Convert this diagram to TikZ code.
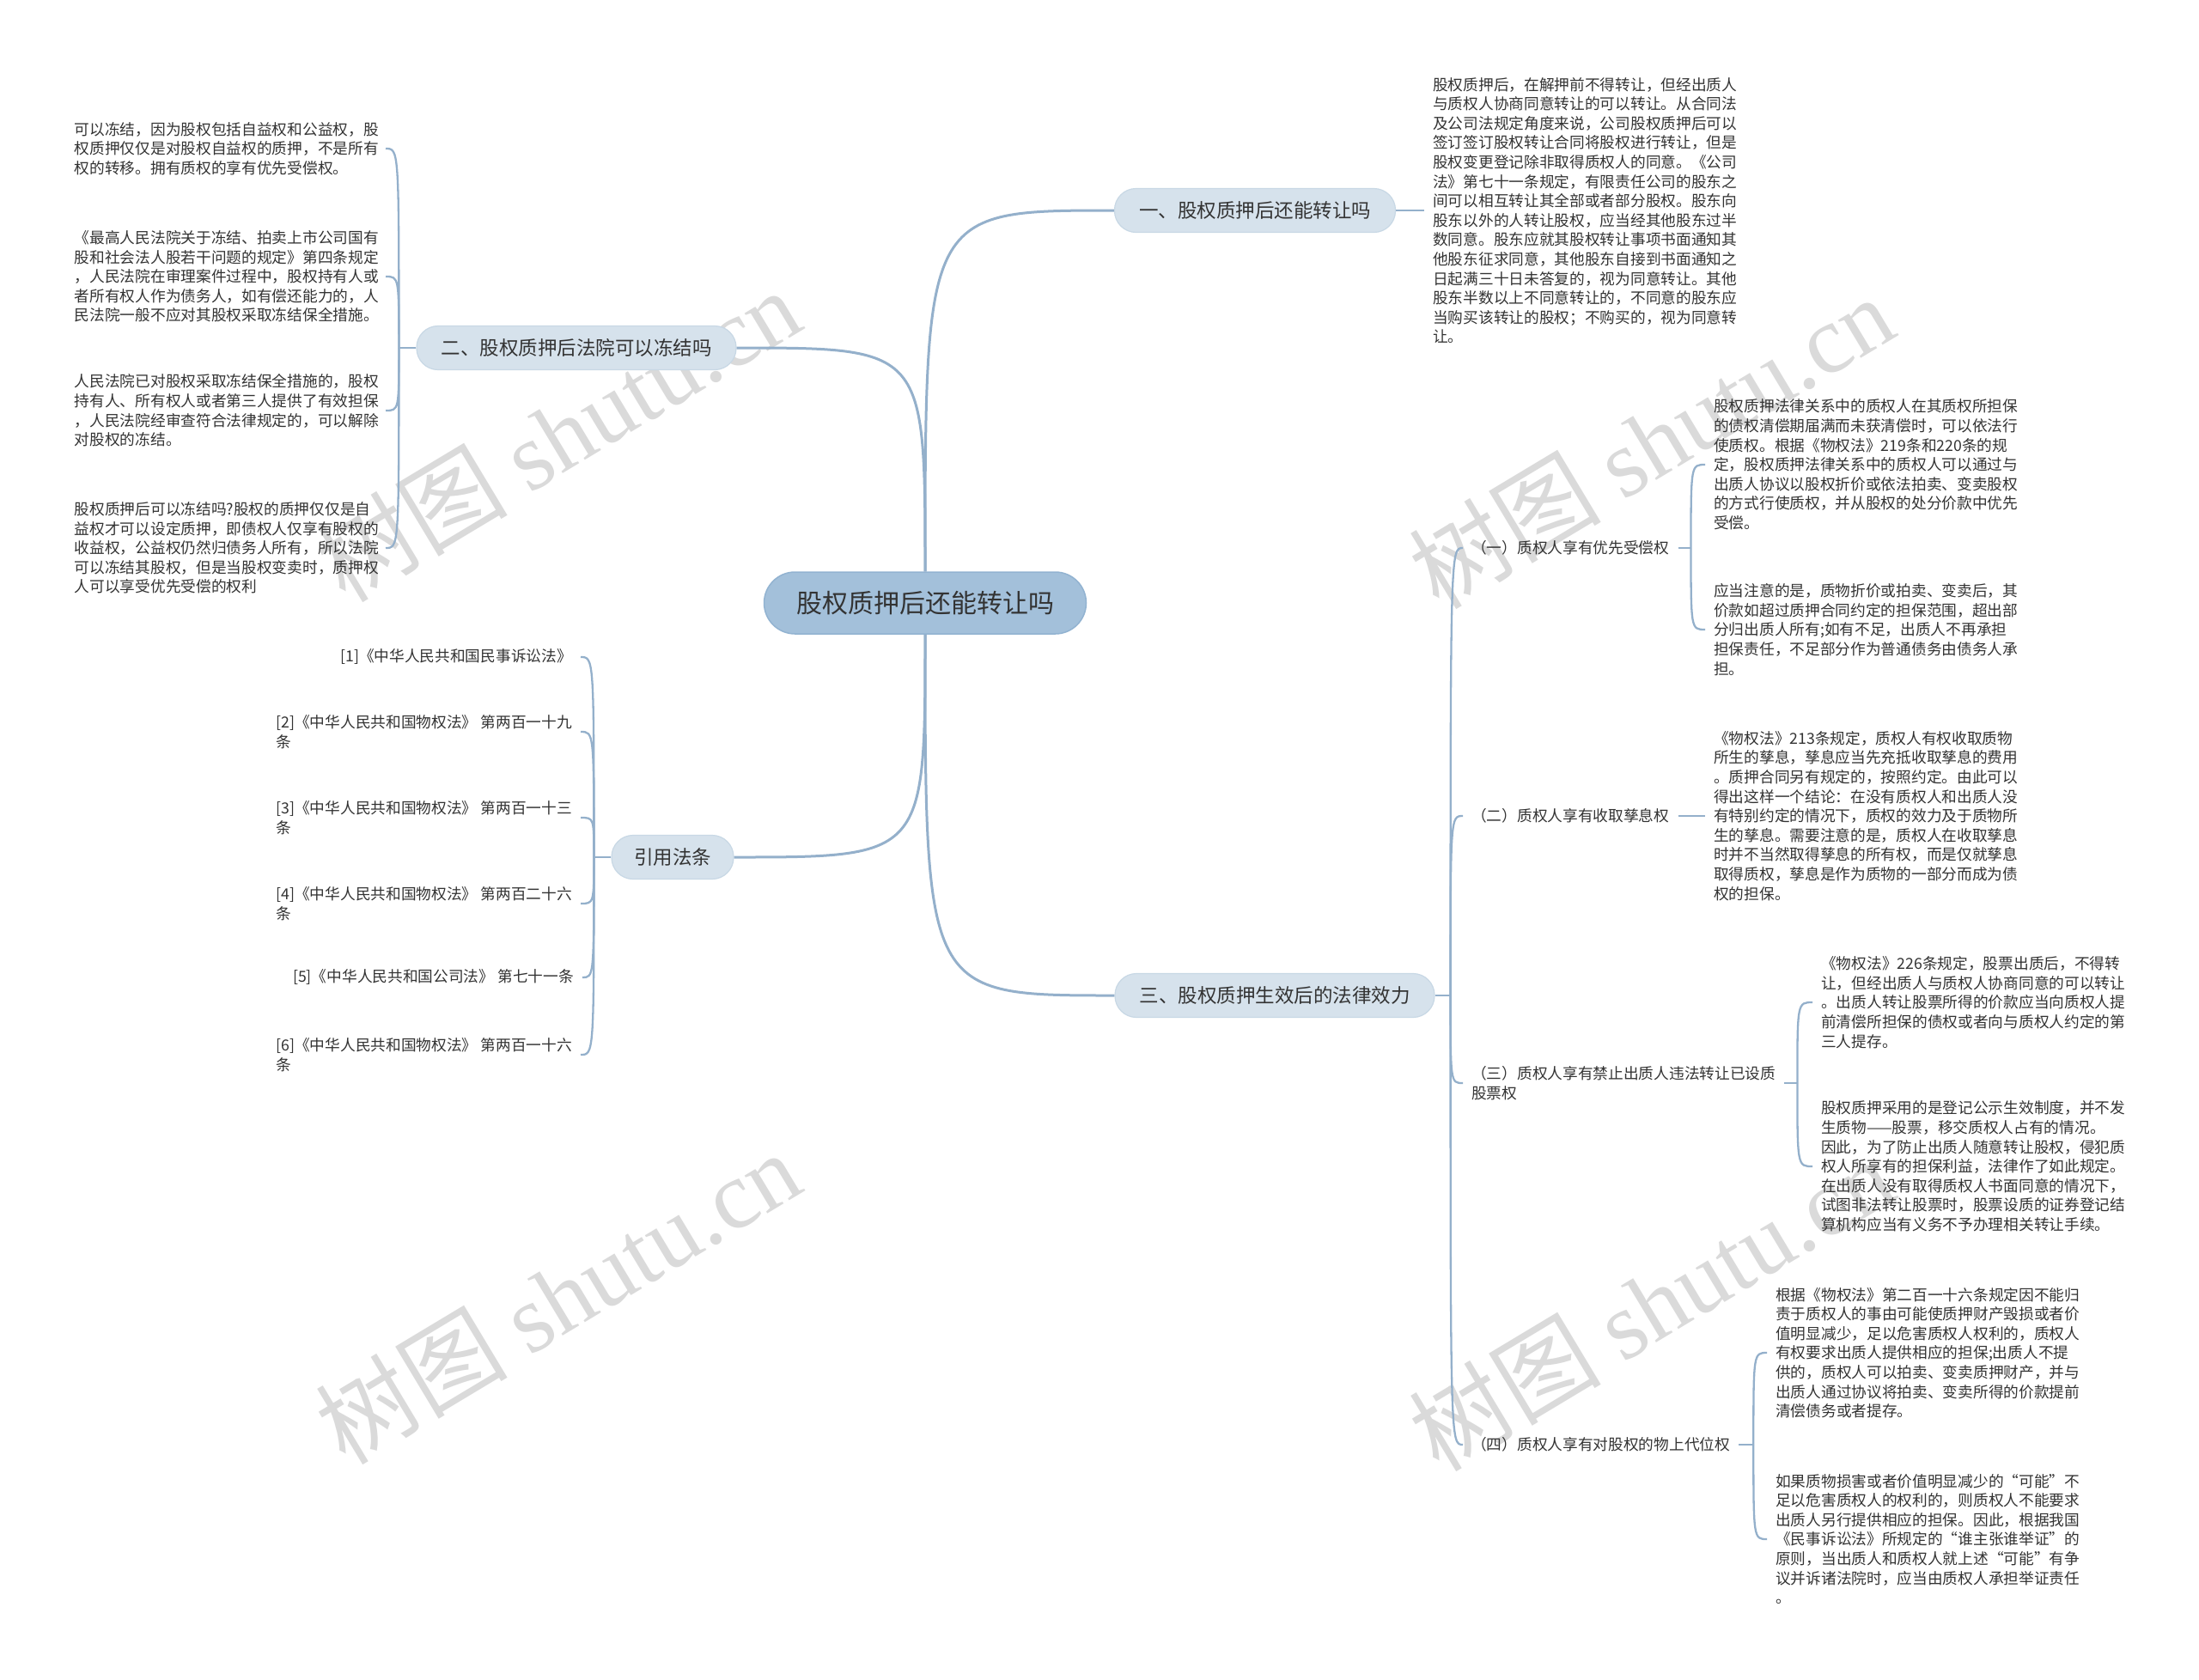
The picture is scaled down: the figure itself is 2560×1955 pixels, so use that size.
\documentclass[tikz,border=0pt]{standalone}
\usepackage{fontspec}
\setmainfont{Noto Sans CJK SC}
\newfontfamily\wmlatin{Liberation Serif}
\usetikzlibrary{calc}
\definecolor{linec}{HTML}{94B0CB}
\definecolor{rootfill}{HTML}{A3C0DA}
\definecolor{rootdraw}{HTML}{92B3D1}
\definecolor{brfill}{HTML}{D6E2EC}
\definecolor{brdraw}{HTML}{C8D8E5}
\definecolor{txt}{HTML}{333333}
\definecolor{wm}{HTML}{DADADA}
\begin{document}
\begin{tikzpicture}[x=1pt,y=-1pt,
  mainconn/.style={draw=linec, line width=3pt},
  conn/.style={draw=linec, line width=2.3pt},
  rootbox/.style={fill=rootfill, draw=rootdraw, line width=1.5pt, rounded corners=36pt, minimum width=375pt, minimum height=72pt, font=\fontsize{30}{36}\selectfont, text=txt, inner sep=0pt},
  brbox/.style={fill=brfill, draw=brdraw, line width=1.2pt, rounded corners=25pt, minimum height=51pt, font=\fontsize{22.5}{27}\selectfont, text=txt, inner sep=0pt},
  leaf/.style={font=\fontsize{17.7}{22.6}\selectfont, text=txt, align=left, inner xsep=10pt, inner ysep=0pt},
  wmark/.style={text=wm, rotate=31, font=\fontsize{112}{112}\selectfont, inner sep=0pt}
]
\fill[white] (0,0) rectangle (2560,1955);
\useasboundingbox (0,0) rectangle (2560,1955);

% watermarks
\node[wmark] (wm1) at (649,506) {树图 {\wmlatin shutu.cn}};
\node[wmark] (wm2) at (1922,514) {树图 {\wmlatin shutu.cn}};
\node[wmark] (wm3) at (649,1510) {树图 {\wmlatin shutu.cn}};
\node[wmark] (wm4) at (1922,1518) {树图 {\wmlatin shutu.cn}};

% root and branches
\node[rootbox] (root) at (1077,702) {股权质押后还能转让吗};
\node[brbox, minimum width=327pt] (b1) at (1461,245) {一、股权质押后还能转让吗};
\node[brbox, minimum width=372pt] (b2) at (671,405) {二、股权质押后法院可以冻结吗};
\node[brbox, minimum width=142pt] (b3) at (783,998) {引用法条};
\node[brbox, minimum width=372pt] (b4) at (1484,1159) {三、股权质押生效后的法律效力};

\draw[mainconn] (root.north) .. controls (root.north |- b1.west) .. (b1.west);
\draw[mainconn] (root.north) .. controls (root.north |- b2.east) .. (b2.east);
\draw[mainconn] (root.south) .. controls (root.south |- b3.east) .. (b3.east);
\draw[mainconn] (root.south) .. controls (root.south |- b4.west) .. (b4.west);

% branch 1 leaf
\node[leaf, anchor=west] (l1) at (1658,245) {股权质押后，在解押前不得转让，但经出质人\\
与质权人协商同意转让的可以转让。从合同法\\
及公司法规定角度来说，公司股权质押后可以\\
签订签订股权转让合同将股权进行转让，但是\\
股权变更登记除非取得质权人的同意。《公司\\
法》第七十一条规定，有限责任公司的股东之\\
间可以相互转让其全部或者部分股权。股东向\\
股东以外的人转让股权，应当经其他股东过半\\
数同意。股东应就其股权转让事项书面通知其\\
他股东征求同意，其他股东自接到书面通知之\\
日起满三十日未答复的，视为同意转让。其他\\
股东半数以上不同意转让的，不同意的股东应\\
当购买该转让的股权；不购买的，视为同意转\\
让。};
\draw[conn] (b1.east) -- (l1.west);

% branch 2 leaves
\node[leaf, anchor=east, inner xsep=8pt] (l2a) at (449,173) {可以冻结，因为股权包括自益权和公益权，股\\
权质押仅仅是对股权自益权的质押，不是所有\\
权的转移。拥有质权的享有优先受偿权。};
\node[leaf, anchor=east, inner xsep=8pt] (l2b) at (449,322) {《最高人民法院关于冻结、拍卖上市公司国有\\
股和社会法人股若干问题的规定》第四条规定\\
，人民法院在审理案件过程中，股权持有人或\\
者所有权人作为债务人，如有偿还能力的，人\\
民法院一般不应对其股权采取冻结保全措施。};
\node[leaf, anchor=east, inner xsep=8pt] (l2c) at (449,478) {人民法院已对股权采取冻结保全措施的，股权\\
持有人、所有权人或者第三人提供了有效担保\\
，人民法院经审查符合法律规定的，可以解除\\
对股权的冻结。};
\node[leaf, anchor=east, inner xsep=8pt] (l2d) at (449,638) {股权质押后可以冻结吗?股权的质押仅仅是自\\
益权才可以设定质押，即债权人仅享有股权的\\
收益权，公益权仍然归债务人所有，所以法院\\
可以冻结其股权，但是当股权变卖时，质押权\\
人可以享受优先受偿的权利};
\coordinate (j2) at ($(b2.west)+(-20,0)$);
\draw[conn] (b2.west) -- (j2);
\foreach \c in {l2a,l2b,l2c,l2d}
  \draw[conn] (j2) .. controls (j2 |- \c.east) .. (\c.east);

% references
\node[leaf, anchor=east] (r1) at (676,765) {[1]《中华人民共和国民事诉讼法》};
\node[leaf, anchor=east] (r2) at (676,852) {[2]《中华人民共和国物权法》 第两百一十九\\条};
\node[leaf, anchor=east] (r3) at (676,952) {[3]《中华人民共和国物权法》 第两百一十三\\条};
\node[leaf, anchor=east] (r4) at (676,1052) {[4]《中华人民共和国物权法》 第两百二十六\\条};
\node[leaf, anchor=east] (r5) at (678,1138) {[5]《中华人民共和国公司法》 第七十一条};
\node[leaf, anchor=east] (r6) at (676,1228) {[6]《中华人民共和国物权法》 第两百一十六\\条};
\coordinate (j3) at ($(b3.west)+(-20,0)$);
\draw[conn] (b3.west) -- (j3);
\foreach \c in {r1,r2,r3,r4,r5,r6}
  \draw[conn] (j3) .. controls (j3 |- \c.east) .. (\c.east);

% branch 4 sub-labels
\node[leaf, anchor=west] (s1) at (1703,638) {（一）质权人享有优先受偿权};
\node[leaf, anchor=west] (s2) at (1703,950) {（二）质权人享有收取孳息权};
\node[leaf, anchor=west] (s3) at (1703,1261) {（三）质权人享有禁止出质人违法转让已设质\\股票权};
\node[leaf, anchor=west] (s4) at (1703,1682) {（四）质权人享有对股权的物上代位权};
\coordinate (j4) at ($(b4.east)+(18,0)$);
\draw[conn] (b4.east) -- (j4);
\foreach \c in {s1,s2,s3,s4}
  \draw[conn] (j4) .. controls (j4 |- \c.west) .. (\c.west);

% (一) children
\node[leaf, anchor=west] (s1a) at (1985,541) {股权质押法律关系中的质权人在其质权所担保\\
的债权清偿期届满而未获清偿时，可以依法行\\
使质权。根据《物权法》219条和220条的规\\
定，股权质押法律关系中的质权人可以通过与\\
出质人协议以股权折价或依法拍卖、变卖股权\\
的方式行使质权，并从股权的处分价款中优先\\
受偿。};
\node[leaf, anchor=west] (s1b) at (1985,733) {应当注意的是，质物折价或拍卖、变卖后，其\\
价款如超过质押合同约定的担保范围，超出部\\
分归出质人所有;如有不足，出质人不再承担\\
担保责任，不足部分作为普通债务由债务人承\\
担。};
\coordinate (js1) at ($(s1.east)+(15,0)$);
\draw[conn] (s1.east) -- (js1);
\foreach \c in {s1a,s1b}
  \draw[conn] (js1) .. controls (js1 |- \c.west) .. (\c.west);

% (二) child
\node[leaf, anchor=west] (s2a) at (1985,950) {《物权法》213条规定，质权人有权收取质物\\
所生的孳息，孳息应当先充抵收取孳息的费用\\
。质押合同另有规定的，按照约定。由此可以\\
得出这样一个结论：在没有质权人和出质人没\\
有特别约定的情况下，质权的效力及于质物所\\
生的孳息。需要注意的是，质权人在收取孳息\\
时并不当然取得孳息的所有权，而是仅就孳息\\
取得质权，孳息是作为质物的一部分而成为债\\
权的担保。};
\draw[conn] (s2.east) -- (s2a.west);

% (三) children
\node[leaf, anchor=west] (s3a) at (2110,1167) {《物权法》226条规定，股票出质后，不得转\\
让，但经出质人与质权人协商同意的可以转让\\
。出质人转让股票所得的价款应当向质权人提\\
前清偿所担保的债权或者向与质权人约定的第\\
三人提存。};
\node[leaf, anchor=west] (s3b) at (2110,1358) {股权质押采用的是登记公示生效制度，并不发\\
生质物——股票，移交质权人占有的情况。\\
因此，为了防止出质人随意转让股权，侵犯质\\
权人所享有的担保利益，法律作了如此规定。\\
在出质人没有取得质权人书面同意的情况下，\\
试图非法转让股票时，股票设质的证券登记结\\
算机构应当有义务不予办理相关转让手续。};
\coordinate (js3) at ($(s3.east)+(15,0)$);
\draw[conn] (s3.east) -- (js3);
\foreach \c in {s3a,s3b}
  \draw[conn] (js3) .. controls (js3 |- \c.west) .. (\c.west);

% (四) children
\node[leaf, anchor=west] (s4a) at (2057,1575) {根据《物权法》第二百一十六条规定因不能归\\
责于质权人的事由可能使质押财产毁损或者价\\
值明显减少，足以危害质权人权利的，质权人\\
有权要求出质人提供相应的担保;出质人不提\\
供的，质权人可以拍卖、变卖质押财产，并与\\
出质人通过协议将拍卖、变卖所得的价款提前\\
清偿债务或者提存。};
\node[leaf, anchor=west] (s4b) at (2057,1792) {如果质物损害或者价值明显减少的“可能”不\\
足以危害质权人的权利的，则质权人不能要求\\
出质人另行提供相应的担保。因此，根据我国\\
《民事诉讼法》所规定的“谁主张谁举证”的\\
原则，当出质人和质权人就上述“可能”有争\\
议并诉诸法院时，应当由质权人承担举证责任\\
。};
\coordinate (js4) at ($(s4.east)+(17,0)$);
\draw[conn] (s4.east) -- (js4);
\foreach \c in {s4a,s4b}
  \draw[conn] (js4) .. controls (js4 |- \c.west) .. (\c.west);
\end{tikzpicture}
\end{document}
